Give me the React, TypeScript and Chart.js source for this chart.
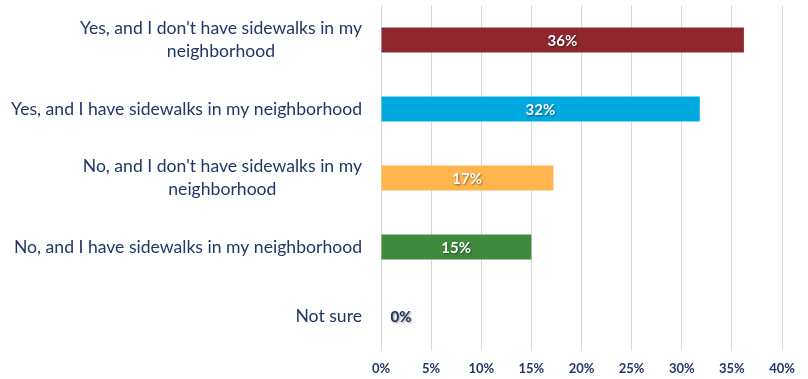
import React, { useEffect, useRef } from "react";
import { Chart, registerables } from "chart.js";

Chart.register(...registerables);

const categories: string[][] = [
  ["Yes, and I don't have sidewalks in my", "neighborhood"],
  ["Yes, and I have sidewalks in my neighborhood"],
  ["No, and I don't have sidewalks in my", "neighborhood"],
  ["No, and I have sidewalks in my neighborhood"],
  ["Not sure"],
];
const values: number[] = [36.2, 31.8, 17.2, 15.0, 0];
const valueLabels: string[] = ["36%", "32%", "17%", "15%", "0%"];
const barColors: string[] = ["#8E282D", "#00A9E0", "#FFB54D", "#3F8A3D", "#8E282D"];
const tickValues: number[] = [0, 5, 10, 15, 20, 25, 30, 35, 40];

const FONT = "Lato, 'Open Sans', sans-serif";
const NAVY = "#1F3864";

const labelsPlugin = {
  id: "customLabels",
  afterDraw(chart: any) {
    const ctx = chart.ctx;
    const y = chart.scales.y;
    const x = chart.scales.x;
    const area = chart.chartArea;
    ctx.save();
    // category labels
    ctx.font = `17.6px ${FONT}`;
    ctx.fillStyle = NAVY;
    ctx.textBaseline = "middle";
    ctx.textAlign = "center";
    const lh = 23;
    categories.forEach((lines, i) => {
      const cy = y.getPixelForValue(i);
      const w = Math.max(...lines.map((l) => ctx.measureText(l).width));
      const right = area.left - 19;
      const cx = right - w / 2;
      const start = cy - ((lines.length - 1) * lh) / 2;
      lines.forEach((l, j) => ctx.fillText(l, cx, start + j * lh));
    });
    // value labels
    ctx.font = `bold 15px ${FONT}`;
    values.forEach((v, i) => {
      const cy = y.getPixelForValue(i);
      const x0 = x.getPixelForValue(0);
      const x1 = x.getPixelForValue(v);
      ctx.shadowColor = "rgba(0,0,0,0.45)";
      ctx.shadowOffsetX = 1;
      ctx.shadowOffsetY = 1;
      ctx.shadowBlur = 2;
      if (v < 2) {
        ctx.fillStyle = NAVY;
        ctx.fillText(valueLabels[i], x0 + 20, cy + 1);
      } else {
        ctx.fillStyle = "#FFFFFF";
        ctx.fillText(valueLabels[i], (x0 + x1) / 2, cy + 1);
      }
    });
    ctx.restore();
  },
};

export default function App() {
  const ref = useRef<HTMLCanvasElement>(null);
  useEffect(() => {
    if (!ref.current) return;
    const chart = new Chart(ref.current, {
      type: "bar",
      data: {
        labels: categories.map((c) => c.join(" ")),
        datasets: [
          {
            data: values,
            backgroundColor: barColors,
            barPercentage: 0.362,
            categoryPercentage: 1,
          },
        ],
      },
      options: {
        indexAxis: "y",
        animation: false,
        responsive: false,
        layout: { padding: { left: 381, right: 26, top: 5.5, bottom: 2.5 } },
        plugins: { legend: { display: false }, tooltip: { enabled: false } },
        scales: {
          y: { display: false },
          x: {
            min: 0,
            max: 40,
            afterBuildTicks: (scale: any) => {
              scale.ticks = tickValues.map((v) => ({ value: v }));
            },
            afterFit: (scale: any) => {
              scale.height = 26;
            },
            grid: { color: "#D9D9D9", lineWidth: 1, drawTicks: false },
            border: { display: false },
            ticks: {
              padding: 11,
              color: NAVY,
              font: { family: FONT, size: 13, weight: "bold" },
              callback: (v: any) => `${v}%`,
            },
          },
        },
      },
      plugins: [labelsPlugin],
    });
    return () => chart.destroy();
  }, []);
  return (
    <div style={{ position: "fixed", left: 0, top: 0, width: 808, height: 379, background: "#fff" }}>
      <canvas ref={ref} width={808} height={379} />
    </div>
  );
}
